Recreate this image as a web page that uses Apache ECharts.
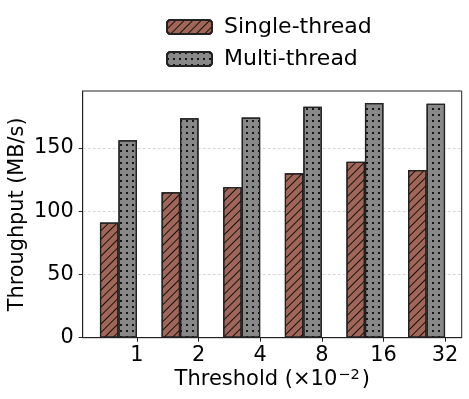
<!DOCTYPE html>
<html>
<head>
<meta charset="utf-8">
<script src="https://cdn.jsdelivr.net/npm/echarts@6/dist/echarts.min.js"></script>
<style>html,body{margin:0;padding:0;background:#fff}#c{width:469px;height:399px}</style>
</head>
<body>
<div id="c"></div>
<script>
const thresholds = ['1', '2', '4', '8', '16', '32'];
const singleThread = [91, 115, 119, 130, 139, 132.5];
const multiThread = [156, 173.5, 174, 182.5, 185.5, 185];
const yTicks = [0, 50, 100, 150];

const positions = thresholds.map((_, i) => i);
const FONT = 'DejaVu Sans';

const chart = echarts.init(document.getElementById('c'), null, {renderer: 'canvas'});
chart.setOption({
  animation: false,
  aria: {enabled: true, decal: {show: true}},
  grid: {left: 82.7, right: 7.3, top: 91, bottom: 61.3, show: true, borderColor: '#222', borderWidth: 1,
    backgroundColor: 'transparent', containLabel: false, outerBoundsMode: 'none'},
  legend: {
    orient: 'vertical', left: 161, top: 11, itemWidth: 45, itemHeight: 14, itemGap: 10,
    textStyle: {fontSize: 22, fontFamily: FONT, color: '#000', padding: [0, 0, 0, 7]},
    data: ['Single-thread', 'Multi-thread']
  },
  xAxis: {
    type: 'value', min: -0.88, max: 5.27,
    name: 'Threshold (×10{sup|−2})', nameLocation: 'middle', nameGap: 30, nameMoveOverlap: false,
    nameTextStyle: {fontSize: 21, fontFamily: FONT, color: '#000',
      rich: {sup: {fontSize: 14.5, fontFamily: FONT, color: '#000', padding: [0, 2, 9, 1]}}},
    axisLine: {show: true, onZero: false, lineStyle: {color: '#222', width: 1}},
    axisTick: {show: true, length: 4, lineStyle: {color: '#222'}, customValues: positions},
    axisLabel: {fontSize: 20.8, fontFamily: FONT, color: '#000', margin: 7, customValues: positions,
      formatter: v => thresholds[Math.round(v)]},
    splitLine: {show: false}
  },
  yAxis: {
    type: 'value', min: 0, max: 195, interval: 50,
    name: 'Throughput (MB/s)', nameLocation: 'middle', nameGap: 55, nameMoveOverlap: false,
    nameTextStyle: {fontSize: 20.8, fontFamily: FONT, color: '#000'},
    axisLine: {show: true, onZero: false, lineStyle: {color: '#222', width: 1}},
    axisTick: {show: true, length: 4, lineStyle: {color: '#222'}, customValues: yTicks},
    axisLabel: {fontSize: 20.8, fontFamily: FONT, color: '#000', margin: 9, customValues: yTicks},
    splitLine: {show: true, lineStyle: {color: '#cccccc', type: [3, 2], width: 0.8}}
  },
  series: [
    {
      name: 'Single-thread', type: 'bar', barWidth: 18.5, barGap: '0%',
      data: singleThread.map((v, i) => [positions[i] - 0.3, v]),
      itemStyle: {
        color: '#a0665a', borderColor: '#222', borderWidth: 1.2,
        decal: {symbol: 'rect', symbolSize: 1, dashArrayX: [1, 0], dashArrayY: [0.8, 5], rotation: -Math.PI / 4, color: 'rgba(0,0,0,0.85)'}
      }
    },
    {
      name: 'Multi-thread', type: 'bar', barWidth: 18.5, barGap: '0%',
      data: multiThread.map((v, i) => [positions[i] - 0.3, v]),
      itemStyle: {
        color: '#888888', borderColor: '#222', borderWidth: 1.2,
        decal: {symbol: 'rect', symbolSize: 1, dashArrayX: [1.4, 3.3], dashArrayY: [1.4, 3.3], rotation: 0, color: 'rgba(0,0,0,0.85)'}
      }
    }
  ]
});
</script>
</body>
</html>
